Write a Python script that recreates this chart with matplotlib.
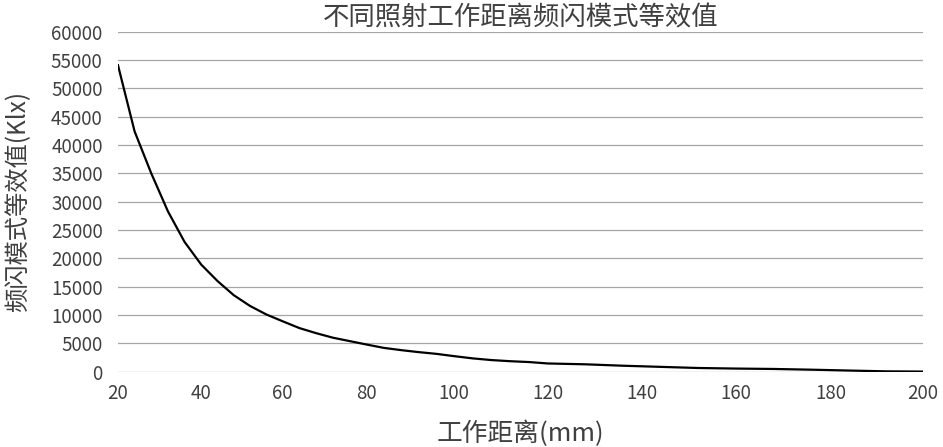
import numpy as np
import matplotlib
matplotlib.use("Agg")
import matplotlib.pyplot as plt

plt.rcParams['font.family'] = ['Noto Sans CJK SC', 'DejaVu Sans']
plt.rcParams['font.weight'] = 'light'

# 工作距离 (mm) 和 频闪模式等效值 (Klx)
distance = [20, 24, 28, 32, 36, 40, 44, 48, 52, 56, 60, 64, 68, 72, 76, 80,
            84, 88, 92, 96, 100, 104, 108, 112, 116, 120, 128, 136, 144,
            152, 160, 168, 176, 184, 192, 200]
value = [54100, 42400, 35000, 28300, 22900, 18900, 16000, 13500, 11600, 10100,
         8900, 7700, 6800, 6000, 5400, 4800, 4200, 3800, 3450, 3150, 2750,
         2350, 2050, 1850, 1700, 1450, 1300, 1050, 850, 650, 550, 480, 350,
         200, 60, 20]

x_ticks = [20, 40, 60, 80, 100, 120, 140, 160, 180, 200]
y_ticks = list(range(0, 60001, 5000))

# spacing of the x tick labels in the reference is not even, keep it
x_tick_spacing = [0, 83.2, 164.5, 248.2, 335.5, 429.5, 523.8, 617.2, 712.2, 804.5]


def fwd(x):
    return np.interp(x, x_ticks, x_tick_spacing)


def inv(p):
    return np.interp(p, x_tick_spacing, x_ticks)


text_color = '#404040'

fig = plt.figure(figsize=(9.43, 4.47), dpi=100)
ax = fig.add_axes([0.1251, 0.1685, 0.8537, 0.7605])

ax.set_xscale('function', functions=(fwd, inv))
ax.plot(distance, value, color='black', linewidth=1.6, zorder=3)

ax.set_xlim(20, 200)
ax.set_ylim(0, 60000)
ax.set_xticks(x_ticks)
ax.set_xticklabels([str(t) for t in x_ticks])
ax.set_yticks(y_ticks)
ax.set_yticklabels([str(t) for t in y_ticks])
ax.minorticks_off()

ax.grid(axis='y', color='#a6a6a6', linewidth=0.9)
ax.set_axisbelow(True)
for s in ax.spines.values():
    s.set_visible(False)

ax.tick_params(axis='both', length=0, labelsize=13.5, labelcolor=text_color)
ax.tick_params(axis='y', pad=11)
ax.tick_params(axis='x', pad=8)

ax.set_title("不同照射工作距离频闪模式等效值", fontsize=19, color=text_color, pad=4)
ax.set_xlabel("工作距离(mm)", fontsize=18.5, color=text_color, labelpad=12)
ax.set_ylabel("频闪模式等效值(Klx)", fontsize=17.5, color=text_color, labelpad=14)

fig.savefig("out.png", dpi=100)
